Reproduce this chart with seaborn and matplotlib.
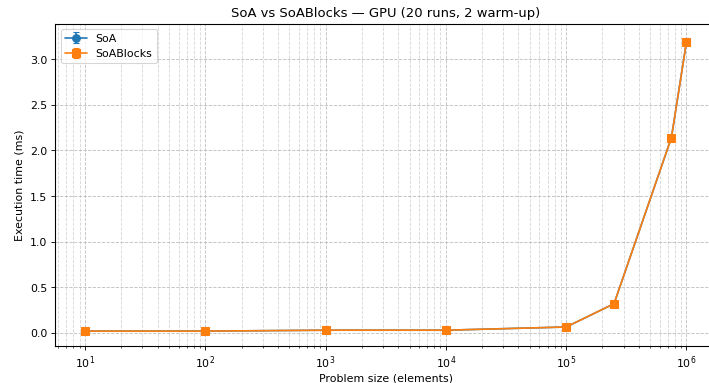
import matplotlib
matplotlib.use("Agg")
import matplotlib.pyplot as plt
import seaborn as sns

sns.set_theme(style="ticks", context="notebook",
              rc={"xtick.major.pad": 3.5, "ytick.major.pad": 3.5,
                  "xtick.minor.pad": 3.4, "ytick.minor.pad": 3.4,
                  "axes.labelpad": 4.0,
                  "text.color": "black", "axes.labelcolor": "black",
                  "xtick.color": "black", "ytick.color": "black"})
plt.rcParams['font.family'] = ['DejaVu Sans']

# Problem sizes and mean GPU execution times (ms)
sizes = [10, 100, 1000, 10000, 100000, 250000, 750000, 1000000]
soa_ms = [0.02, 0.02, 0.03, 0.03, 0.065, 0.32, 2.14, 3.19]
soa_std = [0.002, 0.002, 0.003, 0.003, 0.004, 0.01, 0.02, 0.04]
soablocks_ms = [0.02, 0.02, 0.03, 0.03, 0.065, 0.32, 2.14, 3.185]
soablocks_std = [0.002, 0.002, 0.003, 0.003, 0.004, 0.01, 0.02, 0.03]

palette = sns.color_palette("tab10")

DPI = 78.8
W, H = 709, 383
fig = plt.figure(figsize=((W + 0.5) / DPI, (H + 0.5) / DPI), dpi=DPI)
ax = fig.add_axes([55 / W, 1 - 346 / H, (716 - 55) / W, (346 - 24) / H])
ax.errorbar(sizes, soa_ms, yerr=soa_std, marker="o", color=palette[0],
            capsize=3, linewidth=1.5, markersize=7, label="SoA")
ax.errorbar(sizes, soablocks_ms, yerr=soablocks_std, marker="s", color=palette[1],
            capsize=3, linewidth=1.5, markersize=7, label="SoABlocks")
ax.set_xscale("log")
ax.set_xlim(10 ** 0.75, 10 ** 6.25)
for s in ["top", "right", "left", "bottom"]:
    ax.spines[s].set_visible(True)
    ax.spines[s].set_color("black")
    ax.spines[s].set_linewidth(1.0)
ax.tick_params(which="major", labelsize=10, width=0.8, length=3.5, pad=3.5,
               color="black", labelcolor="black")
ax.tick_params(which="minor", width=0.6, length=2, pad=3.4, color="black")
ax.grid(True, which="major", linestyle="--", linewidth=0.8, color="#b0b0b0", alpha=0.8)
ax.grid(True, which="minor", linestyle="--", linewidth=0.8, color="#b0b0b0", alpha=0.5)
ax.set_title("SoA vs SoABlocks — GPU (20 runs, 2 warm-up)", fontsize=12, color="black")
ax.set_xlabel("Problem size (elements)", fontsize=10, labelpad=3)
ax.set_ylabel("Execution time (ms)", fontsize=10, labelpad=5)
leg = ax.legend(loc="upper left", fontsize=10, frameon=True)
for t in leg.get_texts():
    t.set_color("black")
fig.savefig("out.png", dpi=DPI)
